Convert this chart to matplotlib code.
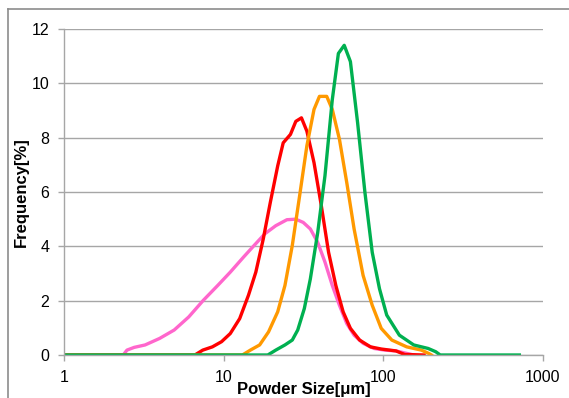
import matplotlib.pyplot as plt
from matplotlib.lines import Line2D

plt.rcParams['font.family'] = ['Liberation Sans', 'DejaVu Sans']

# powder size [um] and frequency [%] for each distribution
pink_x = [1, 2.35, 2.48, 2.75, 3.22, 3.97, 4.9, 6.04, 7.45, 9.18, 11.0, 13.3, 15.5,
          18.1, 21.2, 24.9, 28.3, 31.5, 34.9, 38.8, 43.1, 47.9, 53.1, 59.0, 65.6,
          74.7, 87.5, 102, 120, 140, 155]
pink_y = [0, 0, 0.18, 0.28, 0.37, 0.61, 0.92, 1.4, 2.01, 2.56, 3.05, 3.6, 4.03,
          4.46, 4.76, 4.98, 5.0, 4.88, 4.64, 4.15, 3.42, 2.56, 1.83, 1.16, 0.73,
          0.43, 0.24, 0.18, 0.15, 0.06, 0]

red_x = [1, 6.6, 7.4, 8.5, 9.7, 11.0, 12.6, 14.3, 15.9, 17.7, 19.6, 21.8, 23.6,
         26.2, 28.3, 30.7, 33.2, 36.8, 40.9, 45.4, 50.4, 56.0, 62.2, 71.0, 83.0,
         97.0, 120, 136, 180]
red_y = [0, 0, 0.18, 0.3, 0.49, 0.79, 1.34, 2.2, 3.05, 4.27, 5.62, 6.96, 7.81,
         8.12, 8.6, 8.73, 8.24, 7.08, 5.49, 3.78, 2.56, 1.59, 0.98, 0.55, 0.3,
         0.22, 0.15, 0.02, 0]

orange_x = [1, 13.1, 14.7, 16.8, 19.1, 21.8, 24.2, 26.9, 29.9, 33.2, 36.8, 39.8,
            44.2, 47.9, 53.1, 59.0, 65.6, 74.7, 85.2, 97.0, 113, 140, 173, 192, 200]
orange_y = [0, 0, 0.18, 0.37, 0.85, 1.59, 2.56, 4.03, 5.86, 7.7, 9.04, 9.52,
            9.52, 9.04, 7.94, 6.35, 4.64, 2.93, 1.83, 0.98, 0.55, 0.3, 0.18, 0.06, 0]

green_x = [1, 18.9, 21.2, 24.2, 26.9, 29.1, 32.0, 34.9, 38.8, 43.1, 47.9, 52.3,
           56.9, 62.2, 69.0, 76.7, 85.2, 94.6, 105, 126, 155, 191, 213, 227, 711]
green_y = [0, 0, 0.18, 0.37, 0.55, 0.92, 1.71, 2.8, 4.5, 6.6, 9.4, 11.1, 11.4,
           10.8, 8.55, 5.98, 3.78, 2.44, 1.47, 0.73, 0.37, 0.24, 0.12, 0, 0]

W, H = 569, 398
fig = plt.figure(figsize=(W / 100, H / 100), dpi=100)
ax = fig.add_axes([64 / W, 1 - 355 / H, 479 / W, 326 / H])

lw = 2.4
ax.plot(pink_x, pink_y, color='#ff66cc', lw=lw)
ax.plot(red_x, red_y, color='#ff0000', lw=lw)
ax.plot(orange_x, orange_y, color='#ff9900', lw=lw)
ax.plot(green_x, green_y, color='#00b050', lw=lw)

ax.set_xscale('log')
ax.set_xlim(1, 1000)
ax.set_ylim(0, 12)
ax.set_yticks(range(0, 13, 2))
ax.set_xticks([1, 10, 100, 1000])
ax.set_xticklabels(['1', '10', '100', '1000'])
ax.minorticks_off()
ax.grid(axis='y', color='#a6a6a6', lw=1)
ax.set_axisbelow(True)

for s in ['top', 'right']:
    ax.spines[s].set_visible(False)
for s in ['left', 'bottom']:
    ax.spines[s].set_color('#a6a6a6')
    ax.spines[s].set_linewidth(1)
ax.tick_params(axis='both', colors='#a6a6a6', labelcolor='black', labelsize=11.5,
               length=4.5, width=1, pad=6)

ax.set_xlabel('Powder Size[μm]', fontsize=12, fontweight='bold')
ax.xaxis.set_label_coords(0.5, -0.084)
ax.set_ylabel('Frequency[%]', fontsize=12, fontweight='bold', va='center')
ax.yaxis.set_label_coords(-0.088, 0.5)

# outer chart frame (cut off on right and bottom)
fig.add_artist(Line2D([7.5 / W, 7.5 / W], [0, 1 - 8.5 / H], color='#8c8c8c', lw=1.2))
fig.add_artist(Line2D([7.5 / W, 1], [1 - 8.5 / H, 1 - 8.5 / H], color='#8c8c8c', lw=1.2))

fig.savefig('out.png', dpi=100)
